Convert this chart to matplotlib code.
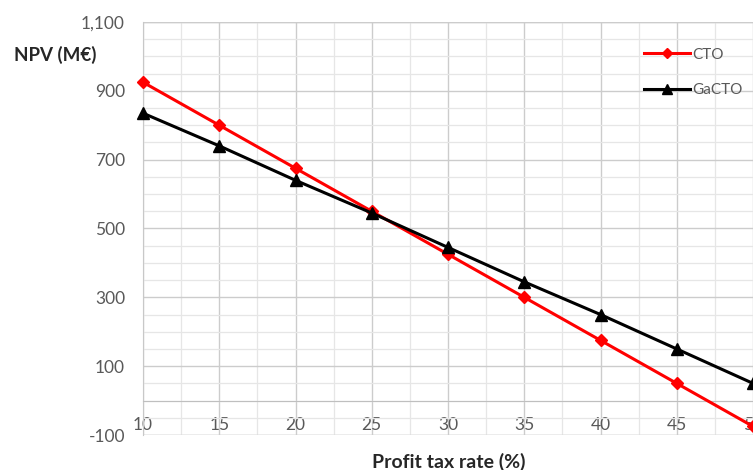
import matplotlib.pyplot as plt
import numpy as np
from matplotlib.ticker import FuncFormatter, MultipleLocator

# Profit tax rate (%) and NPV (M€) for both processes
tax_rate = [10, 15, 20, 25, 30, 35, 40, 45, 50]
npv_cto = [925, 800, 675, 550, 425, 300, 175, 50, -75]
npv_gacto = [835, 740, 640, 545, 445, 345, 250, 150, 50]
y_ticks = [-100, 100, 300, 500, 700, 900, 1100]

plt.rcParams['font.family'] = ['Lato', 'DejaVu Sans']

fig = plt.figure(figsize=(7.53, 4.70), dpi=100)
ax = fig.add_axes([143 / 753, 1 - 435 / 470, 1 - 143 / 753, (435 - 22) / 470])

ax.plot(tax_rate, npv_cto, color='#ff0000', lw=2.2, marker='D', ms=6.5,
        label='CTO', zorder=3, clip_on=False)
ax.plot(tax_rate, npv_gacto, color='black', lw=2.2, marker='^', ms=9,
        label='GaCTO', zorder=3, clip_on=False)

ax.set_xlim(10, 50)
ax.set_ylim(-100, 1100)
ax.set_xticks(tax_rate)
ax.set_yticks(y_ticks)
ax.xaxis.set_minor_locator(MultipleLocator(2.5))
ax.yaxis.set_minor_locator(MultipleLocator(50))
ax.yaxis.set_major_formatter(FuncFormatter(lambda v, p: f'{int(v):,}'))

ax.grid(which='major', color='#cccccc', lw=1.0)
ax.grid(which='minor', color='#e6e6e6', lw=0.9)
ax.set_axisbelow(True)

# category axis sits on the zero line
ax.spines['bottom'].set_position(('data', 0))
ax.spines['bottom'].set_color('#bfbfbf')
ax.spines['left'].set_color('#c8c8c8')
ax.spines['top'].set_visible(False)
ax.spines['right'].set_visible(False)
ax.axhline(-100, color='#d0d0d0', lw=1.0, zorder=0)
ax.axhline(1100, color='#d0d0d0', lw=1.0, zorder=0)

ax.tick_params(axis='both', which='both', length=0, labelsize=12.5,
               labelcolor='#595959')
ax.tick_params(axis='x', pad=12)
ax.tick_params(axis='y', pad=13)

fig.text(14 / 753, 1 - 55 / 470, 'NPV (M€)', fontsize=13.5, fontweight='bold',
         va='center', ha='left', color='#262626')
fig.text(449 / 753, 1 - 462 / 470, 'Profit tax rate (%)', fontsize=14,
         fontweight='bold', va='center', ha='center', color='#262626')

leg = ax.legend(loc='upper left', bbox_to_anchor=(630 / 753, 1 - 34 / 470),
                bbox_transform=fig.transFigure, frameon=False, fontsize=11,
                handlelength=3.0, labelspacing=1.4, handletextpad=0.15,
                markerscale=0.75)
for t in leg.get_texts():
    t.set_color('#595959')

fig.savefig('out.png', dpi=100)
